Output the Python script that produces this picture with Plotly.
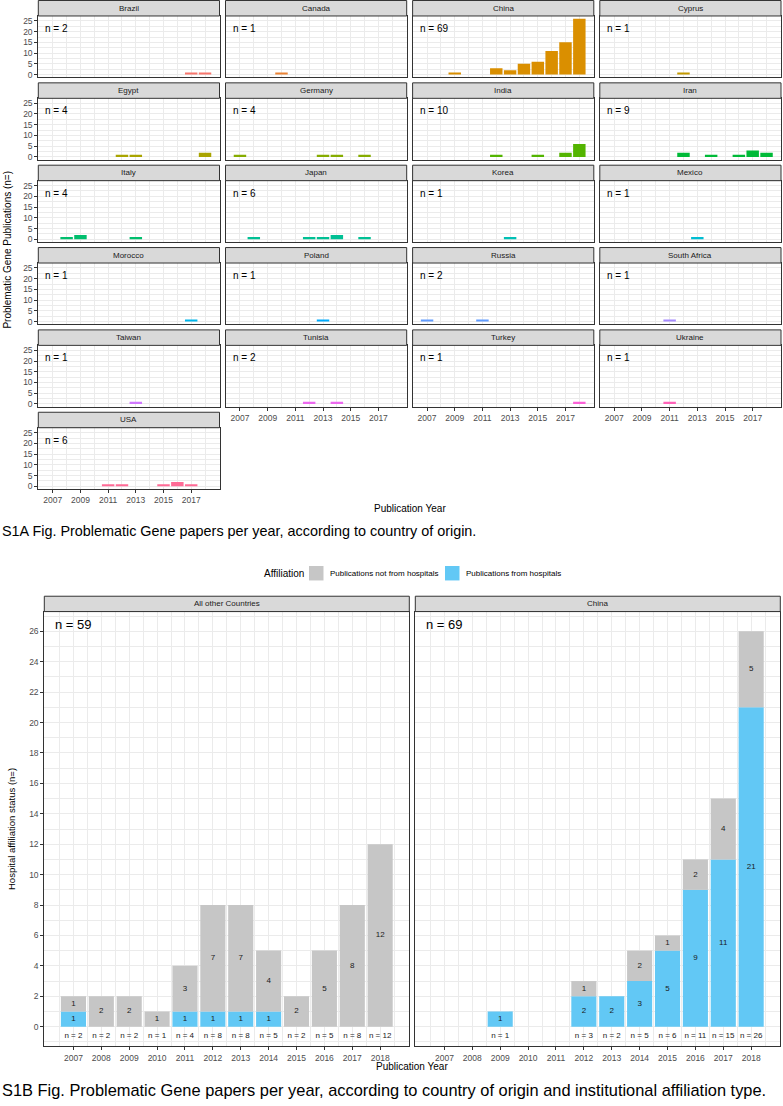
import math
import plotly.graph_objects as go

W, H = 783, 1106
FONT = "Liberation Sans, Arial, sans-serif"

# ---------------- data ----------------
years = [2007, 2008, 2009, 2010, 2011, 2012, 2013, 2014, 2015, 2016, 2017, 2018]

countries = ["Brazil", "Canada", "China", "Cyprus", "Egypt", "Germany", "India", "Iran",
             "Italy", "Japan", "Korea", "Mexico", "Morocco", "Poland", "Russia",
             "South Africa", "Taiwan", "Tunisia", "Turkey", "Ukraine", "USA"]

brazil = [0, 0, 0, 0, 0, 0, 0, 0, 0, 0, 1, 1]
canada = [0, 0, 0, 1, 0, 0, 0, 0, 0, 0, 0, 0]
china = [0, 0, 1, 0, 0, 3, 2, 5, 6, 11, 15, 26]
cyprus = [0, 0, 0, 0, 0, 1, 0, 0, 0, 0, 0, 0]
egypt = [0, 0, 0, 0, 0, 1, 1, 0, 0, 0, 0, 2]
germany = [1, 0, 0, 0, 0, 0, 1, 1, 0, 1, 0, 0]
india = [0, 0, 0, 0, 0, 1, 0, 0, 1, 0, 2, 6]
iran = [0, 0, 0, 0, 0, 2, 0, 1, 0, 1, 3, 2]
italy = [0, 1, 2, 0, 0, 0, 1, 0, 0, 0, 0, 0]
japan = [0, 1, 0, 0, 0, 1, 1, 2, 0, 1, 0, 0]
korea = [0, 0, 0, 0, 0, 0, 1, 0, 0, 0, 0, 0]
mexico = [0, 0, 0, 0, 0, 0, 1, 0, 0, 0, 0, 0]
morocco = [0, 0, 0, 0, 0, 0, 0, 0, 0, 0, 1, 0]
poland = [0, 0, 0, 0, 0, 0, 1, 0, 0, 0, 0, 0]
russia = [1, 0, 0, 0, 1, 0, 0, 0, 0, 0, 0, 0]
south_africa = [0, 0, 0, 0, 1, 0, 0, 0, 0, 0, 0, 0]
taiwan = [0, 0, 0, 0, 0, 0, 1, 0, 0, 0, 0, 0]
tunisia = [0, 0, 0, 0, 0, 1, 0, 1, 0, 0, 0, 0]
turkey = [0, 0, 0, 0, 0, 0, 0, 0, 0, 0, 0, 1]
ukraine = [0, 0, 0, 0, 1, 0, 0, 0, 0, 0, 0, 0]
usa = [0, 0, 0, 0, 1, 1, 0, 0, 1, 2, 1, 0]

country_values = [brazil, canada, china, cyprus, egypt, germany, india, iran, italy, japan,
                  korea, mexico, morocco, poland, russia, south_africa, taiwan, tunisia,
                  turkey, ukraine, usa]

top_xticks = [2007, 2009, 2011, 2013, 2015, 2017]
top_yticks = [0, 5, 10, 15, 20, 25]

groups = ["All other Countries", "China"]
other_hosp = [1, 0, 0, 0, 1, 1, 1, 1, 0, 0, 0, 0]
other_not = [1, 2, 2, 1, 3, 7, 7, 4, 2, 5, 8, 12]
china_hosp = [0, 0, 1, 0, 0, 2, 2, 3, 5, 9, 11, 21]
china_not = [0, 0, 0, 0, 0, 1, 0, 2, 1, 2, 4, 5]
bottom_yticks = list(range(0, 27, 2))

label_not = "Publications not from hospitals"
label_hosp = "Publications from hospitals"
COL_NOT = "#C6C6C6"
COL_HOSP = "#62C8F5"


# ---------------- helpers ----------------
def hcl_hex(h, c=100.0, l=65.0):
    hr = math.radians(h)
    u = c * math.cos(hr)
    v = c * math.sin(hr)
    Xn, Yn, Zn = 95.047, 100.0, 108.883
    Y = Yn * ((l + 16) / 116) ** 3 if l > 8 else Yn * l / 903.3
    den = Xn + 15 * Yn + 3 * Zn
    un, vn = 4 * Xn / den, 9 * Yn / den
    up = u / (13 * l) + un
    vp = v / (13 * l) + vn
    X = 9.0 * Y * up / (4 * vp)
    Z = -X / 3 - 5 * Y + 3 * Y / vp
    X, Y, Z = X / 100, Y / 100, Z / 100
    r = 3.240479 * X - 1.537150 * Y - 0.498535 * Z
    g = -0.969256 * X + 1.875992 * Y + 0.041556 * Z
    b = 0.055648 * X - 0.204043 * Y + 1.057311 * Z

    def gam(t):
        t = max(0.0, min(1.0, t))
        t = 12.92 * t if t <= 0.0031308 else 1.055 * t ** (1 / 2.4) - 0.055
        return int(round(max(0, min(1, t)) * 255))

    return "#%02X%02X%02X" % (gam(r), gam(g), gam(b))


n_c = len(countries)
palette = [hcl_hex(15 + i * 360.0 / n_c) for i in range(n_c)]


def fx(px):
    return px / W


def fy(py):
    return 1 - py / H


GRID = "#EBEBEB"
LINE = "#333333"
TICKC = "#4D4D4D"

fig = go.Figure()
layout = {}
shapes = []
annotations = []

XR = [2005.955, 2019.045]

# ---------------- top facets ----------------
col_left = [38.3, 225.5, 412.6, 599.8]
pw = 181.2
row_pitch = 82.5
strip_h = 15.5
plot_h = 61.5

for k, (name, vals) in enumerate(zip(countries, country_values)):
    r, c = divmod(k, 4)
    idx = k + 1
    x0 = col_left[c]
    x1 = x0 + pw
    st = 0.5 + r * row_pitch
    sb = st + strip_h
    pb = sb + plot_h
    xs = [yr for yr, v in zip(years, vals) if v > 0]
    ys = [v for v in vals if v > 0]
    fig.add_trace(go.Bar(x=xs, y=ys, width=0.9, marker=dict(color=palette[k], line=dict(width=0)),
                         xaxis="x%d" % idx, yaxis="y%d" % idx, showlegend=False,
                         hoverinfo="x+y"))
    show_x = (k >= n_c - 4)
    show_y = (c == 0)
    layout["xaxis%d" % idx] = dict(
        domain=[fx(x0), fx(x1)], anchor="y%d" % idx, range=XR,
        tickmode="array", tickvals=top_xticks, showticklabels=show_x,
        ticks="outside" if show_x else "", ticklen=3, tickcolor=LINE, tickwidth=1,
        tickfont=dict(size=8.5, color=TICKC, family=FONT),
        showgrid=True, gridcolor=GRID, gridwidth=1,
        minor=dict(tickmode="linear", tick0=2006, dtick=1, showgrid=True, gridcolor=GRID, gridwidth=0.6),
        showline=True, mirror=True, linecolor=LINE, linewidth=1, zeroline=False, fixedrange=True)
    layout["yaxis%d" % idx] = dict(
        domain=[fy(pb), fy(sb)], anchor="x%d" % idx, range=[-1.3, 27.3],
        tickmode="array", tickvals=top_yticks, showticklabels=show_y,
        ticks="outside" if show_y else "", ticklen=3, tickcolor=LINE, tickwidth=1,
        tickfont=dict(size=8.5, color=TICKC, family=FONT),
        showgrid=True, gridcolor=GRID, gridwidth=1,
        minor=dict(tickmode="linear", tick0=2.5, dtick=5, showgrid=True, gridcolor=GRID, gridwidth=0.6),
        showline=True, mirror=True, linecolor=LINE, linewidth=1, zeroline=False, fixedrange=True)
    shapes.append(dict(type="rect", xref="paper", yref="paper", x0=fx(x0), x1=fx(x1),
                       y0=fy(sb), y1=fy(st), fillcolor="#D9D9D9", line=dict(color=LINE, width=1),
                       layer="above"))
    annotations.append(dict(xref="paper", yref="paper", x=fx((x0 + x1) / 2), y=fy((st + sb) / 2),
                            text=name, showarrow=False, xanchor="center", yanchor="middle",
                            font=dict(size=8, color="#1A1A1A", family=FONT)))
    annotations.append(dict(xref="paper", yref="paper", x=fx(x0 + 5), y=fy(sb + 12.5),
                            text="n = %d" % sum(vals), showarrow=False, xanchor="left", yanchor="middle",
                            font=dict(size=10, color="#000000", family=FONT)))

annotations.append(dict(xref="paper", yref="paper", x=fx(8), y=fy(250), text="Problematic Gene Publications (n=)",
                        textangle=-90, showarrow=False, xanchor="center", yanchor="middle",
                        font=dict(size=10, color="#000000", family=FONT)))
annotations.append(dict(xref="paper", yref="paper", x=fx(410), y=fy(509), text="Publication Year",
                        showarrow=False, xanchor="center", yanchor="middle",
                        font=dict(size=10, color="#000000", family=FONT)))
annotations.append(dict(xref="paper", yref="paper", x=fx(0), y=fy(532),
                        text="S1A Fig. Problematic Gene papers per year, according to country of origin.",
                        showarrow=False, xanchor="left", yanchor="middle",
                        font=dict(size=14.4, color="#000000", family=FONT)))

# ---------------- bottom facets ----------------
b_left = [44.3, 415.3]
b_w = 365.0
b_st, b_sb, b_pb = 597.3, 612.7, 1048.3
BYR = [-1.3, 27.3]

for g, (gname, hosp, notv) in enumerate(zip(groups, [other_hosp, china_hosp], [other_not, china_not])):
    idx = n_c + 1 + g
    x0 = b_left[g]
    x1 = x0 + b_w
    xa, ya = "x%d" % idx, "y%d" % idx
    fig.add_trace(go.Bar(x=years, y=hosp, width=0.9, marker=dict(color=COL_HOSP, line=dict(width=0)),
                         name=label_hosp, xaxis=xa, yaxis=ya, showlegend=False))
    fig.add_trace(go.Bar(x=years, y=notv, base=hosp, width=0.9, marker=dict(color=COL_NOT, line=dict(width=0)),
                         name=label_not, xaxis=xa, yaxis=ya, showlegend=False))
    # segment labels
    lx, ly, lt = [], [], []
    for yr, h_, n_ in zip(years, hosp, notv):
        if h_ > 0:
            lx.append(yr); ly.append(h_ / 2); lt.append(str(h_))
        if n_ > 0:
            lx.append(yr); ly.append(h_ + n_ / 2); lt.append(str(n_))
    fig.add_trace(go.Scatter(x=lx, y=ly, text=lt, mode="text", xaxis=xa, yaxis=ya, showlegend=False,
                             textfont=dict(size=8, color="#1A1A1A", family=FONT), cliponaxis=False,
                             hoverinfo="skip"))
    tx = [yr for yr, h_, n_ in zip(years, hosp, notv) if h_ + n_ > 0]
    tt = ["n = %d" % (h_ + n_) for h_, n_ in zip(hosp, notv) if h_ + n_ > 0]
    fig.add_trace(go.Scatter(x=tx, y=[-0.6] * len(tx), text=tt, mode="text", xaxis=xa, yaxis=ya,
                             showlegend=False, textfont=dict(size=8, color="#1A1A1A", family=FONT),
                             cliponaxis=False, hoverinfo="skip"))
    layout["xaxis%d" % idx] = dict(
        domain=[fx(x0), fx(x1)], anchor=ya, range=XR,
        tickmode="array", tickvals=years, showticklabels=True,
        ticks="outside", ticklen=3, tickcolor=LINE, tickwidth=1,
        tickfont=dict(size=8.5, color=TICKC, family=FONT),
        showgrid=True, gridcolor=GRID, gridwidth=1,
        minor=dict(tickmode="linear", tick0=2006.5, dtick=1, showgrid=True, gridcolor=GRID, gridwidth=0.6),
        showline=True, mirror=True, linecolor=LINE, linewidth=1, zeroline=False, fixedrange=True)
    layout["yaxis%d" % idx] = dict(
        domain=[fy(b_pb), fy(b_sb)], anchor=xa, range=BYR,
        tickmode="array", tickvals=bottom_yticks, showticklabels=(g == 0),
        ticks="outside" if g == 0 else "", ticklen=3, tickcolor=LINE, tickwidth=1,
        tickfont=dict(size=8.5, color=TICKC, family=FONT),
        showgrid=True, gridcolor=GRID, gridwidth=1,
        minor=dict(tickmode="linear", tick0=-1, dtick=2, showgrid=True, gridcolor=GRID, gridwidth=0.6),
        showline=True, mirror=True, linecolor=LINE, linewidth=1, zeroline=False, fixedrange=True)
    shapes.append(dict(type="rect", xref="paper", yref="paper", x0=fx(x0), x1=fx(x1),
                       y0=fy(b_sb), y1=fy(b_st), fillcolor="#D9D9D9", line=dict(color=LINE, width=1),
                       layer="above"))
    annotations.append(dict(xref="paper", yref="paper", x=fx((x0 + x1) / 2), y=fy((b_st + b_sb) / 2),
                            text=gname, showarrow=False, xanchor="center", yanchor="middle",
                            font=dict(size=8, color="#1A1A1A", family=FONT)))
    annotations.append(dict(xref="paper", yref="paper", x=fx(x0 + 9), y=fy(626),
                            text="n = %d" % (sum(hosp) + sum(notv)), showarrow=False,
                            xanchor="left", yanchor="middle",
                            font=dict(size=13, color="#000000", family=FONT)))

annotations.append(dict(xref="paper", yref="paper", x=fx(12), y=fy(830.5), text="Hospital affiliation status (n=)",
                        textangle=-90, showarrow=False, xanchor="center", yanchor="middle",
                        font=dict(size=9.5, color="#000000", family=FONT)))
annotations.append(dict(xref="paper", yref="paper", x=fx(412.3), y=fy(1068.3), text="Publication Year",
                        showarrow=False, xanchor="center", yanchor="middle",
                        font=dict(size=10, color="#000000", family=FONT)))
annotations.append(dict(xref="paper", yref="paper", x=fx(0), y=fy(1092),
                        text="S1B Fig. Problematic Gene papers per year, according to country of origin and institutional affiliation type.",
                        showarrow=False, xanchor="left", yanchor="middle",
                        font=dict(size=16.4, color="#000000", family=FONT)))

# legend (drawn)
annotations.append(dict(xref="paper", yref="paper", x=fx(262), y=fy(574.3), text="Affiliation",
                        showarrow=False, xanchor="left", yanchor="middle",
                        font=dict(size=10, color="#000000", family=FONT)))
shapes.append(dict(type="rect", xref="paper", yref="paper", x0=fx(309), x1=fx(323.5),
                   y0=fy(581.5), y1=fy(567), fillcolor=COL_NOT, line=dict(width=0)))
annotations.append(dict(xref="paper", yref="paper", x=fx(328), y=fy(574.3), text=label_not,
                        showarrow=False, xanchor="left", yanchor="middle",
                        font=dict(size=8, color="#000000", family=FONT)))
shapes.append(dict(type="rect", xref="paper", yref="paper", x0=fx(445), x1=fx(459.5),
                   y0=fy(581.5), y1=fy(567), fillcolor=COL_HOSP, line=dict(width=0)))
annotations.append(dict(xref="paper", yref="paper", x=fx(464), y=fy(574.3), text=label_hosp,
                        showarrow=False, xanchor="left", yanchor="middle",
                        font=dict(size=8, color="#000000", family=FONT)))

fig.update_layout(width=W, height=H, margin=dict(l=0, r=0, t=0, b=0),
                  paper_bgcolor="white", plot_bgcolor="white", barmode="overlay",
                  font=dict(family=FONT), showlegend=False,
                  shapes=shapes, annotations=annotations, **layout)

fig.write_html("out.html", config={"displayModeBar": False},
               post_script="document.body.style.margin='0';document.body.style.overflow='hidden';")
